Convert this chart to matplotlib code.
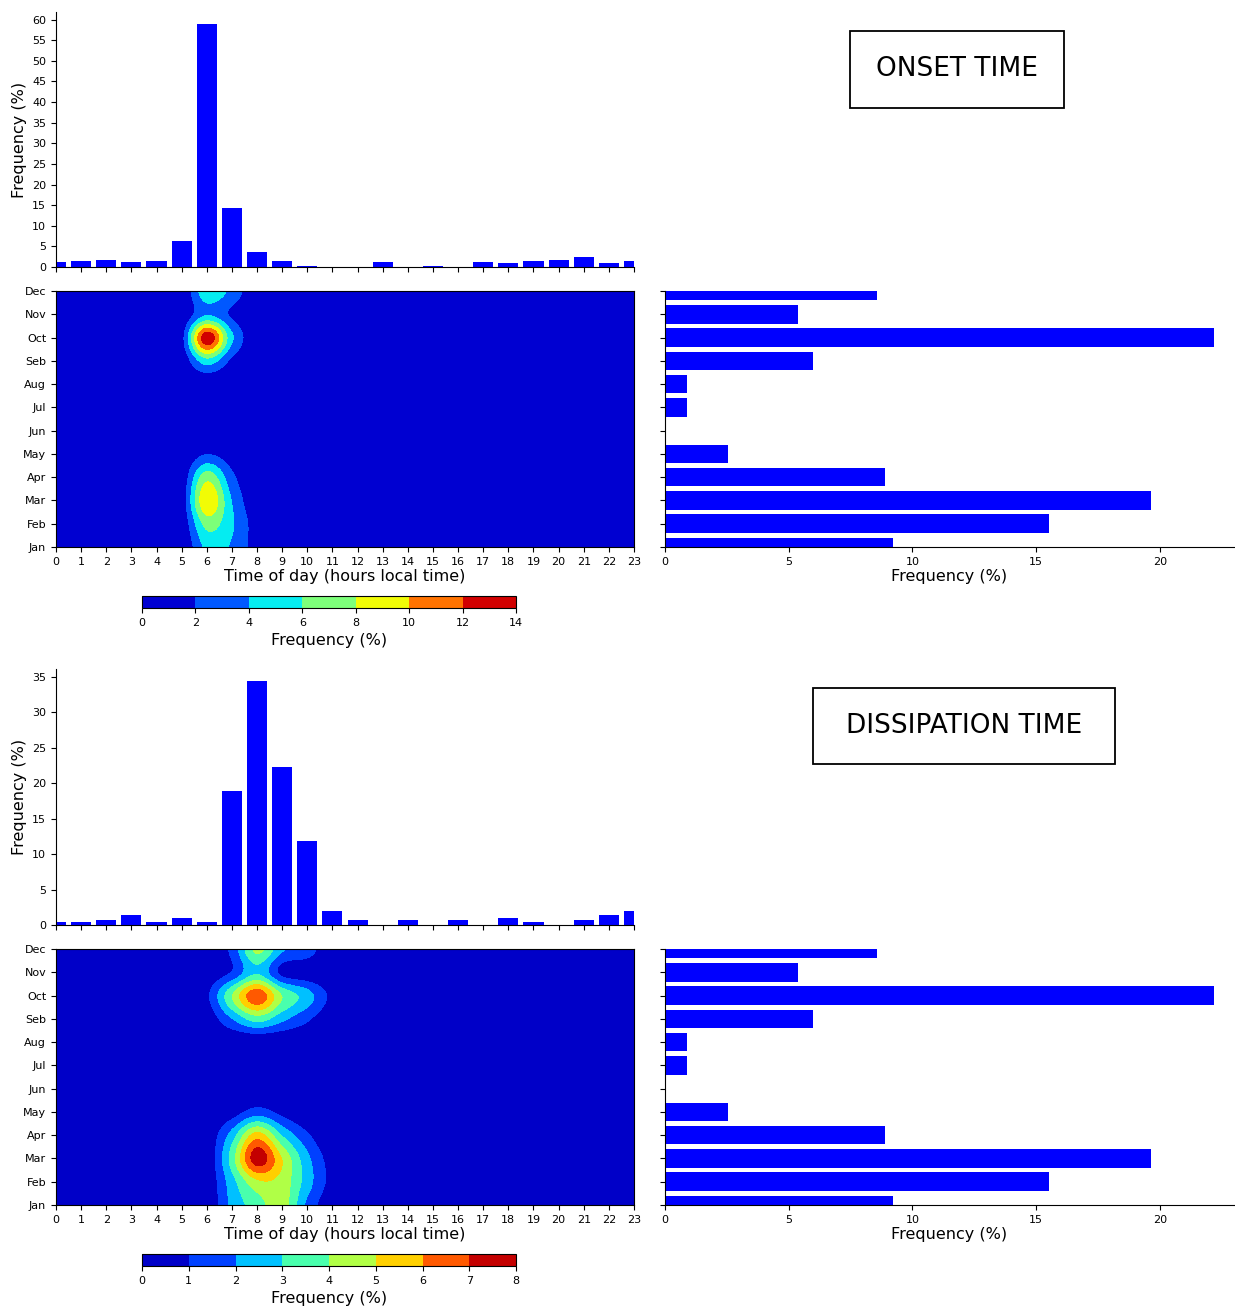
import numpy as np
import matplotlib
matplotlib.use('Agg')
import matplotlib.pyplot as plt
from matplotlib.colors import ListedColormap, BoundaryNorm
from matplotlib.patches import Rectangle

plt.rcParams['font.family'] = ['DejaVu Sans']

# ---------------- data ----------------
hours = list(range(24))
months = ['Jan', 'Feb', 'Mar', 'Apr', 'May', 'Jun', 'Jul', 'Aug', 'Seb', 'Oct', 'Nov', 'Dec']

onset_hist = [1.13, 1.45, 1.78, 1.13, 1.45, 6.2, 58.9, 14.4, 3.7, 1.45, 0.32, 0.0,
              0.0, 1.13, 0.0, 0.32, 0.0, 1.13, 0.89, 1.45, 1.78, 2.34, 0.89, 1.45]
dissip_hist = [0.38, 0.38, 0.71, 1.37, 0.38, 1.04, 0.38, 18.84, 34.38, 22.28, 11.82, 2.03,
               0.71, 0.0, 0.71, 0.0, 0.71, 0.0, 1.04, 0.38, 0.0, 0.71, 1.37, 2.03]

month_freq = [9.21, 15.54, 19.65, 8.89, 2.54, 0.0, 0.9, 0.9, 6.0, 22.2, 5.38, 8.57]

# month x hour frequency (%) -- only hours with non-zero values listed
onset_cols = [5, 6, 7, 8]
onset_cells = [
    [0.1, 4.5, 3.8, 1.0],   # Jan
    [0.5, 6.8, 4.3, 1.0],   # Feb
    [0.9, 9.8, 4.0, 0.3],   # Mar
    [0.6, 7.3, 2.6, 0.0],   # Apr
    [0.2, 2.0, 0.8, 0.0],   # May
    [0.0, 0.0, 0.0, 0.0],   # Jun
    [0.0, 0.0, 0.0, 0.0],   # Jul
    [0.0, 0.0, 0.0, 0.0],   # Aug
    [0.5, 5.2, 1.6, 0.0],   # Sep
    [1.4, 13.5, 4.5, 0.3],  # Oct
    [0.3, 3.9, 1.7, 0.0],   # Nov
    [0.1, 5.5, 3.4, 0.3],   # Dec
]
dissip_cols = [6, 7, 8, 9, 10, 11]
dissip_cells = [
    [0.1, 2.3, 3.5, 4.5, 1.8, 0.2],  # Jan
    [0.2, 2.6, 4.8, 4.6, 2.5, 0.6],  # Feb
    [0.2, 3.5, 7.6, 5.0, 2.3, 0.5],  # Mar
    [0.2, 2.5, 5.5, 3.0, 1.2, 0.0],  # Apr
    [0.0, 0.5, 1.5, 0.7, 0.0, 0.0],  # May
    [0.0, 0.0, 0.0, 0.0, 0.0, 0.0],  # Jun
    [0.0, 0.0, 0.0, 0.0, 0.0, 0.0],  # Jul
    [0.0, 0.0, 0.0, 0.0, 0.0, 0.0],  # Aug
    [0.3, 2.0, 3.5, 2.3, 1.2, 0.2],  # Sep
    [0.8, 4.0, 6.8, 4.0, 2.5, 0.7],  # Oct
    [0.2, 1.1, 2.9, 0.7, 0.3, 0.0],  # Nov
    [0.0, 1.3, 4.3, 2.2, 1.6, 0.0],  # Dec
]

onset_levels = [0, 2, 4, 6, 8, 10, 12, 14]
dissip_levels = [0, 1, 2, 3, 4, 5, 6, 7, 8]

onset_ticks = list(range(0, 61, 5))
dissip_ticks = list(range(0, 36, 5))
bar_xticks = [0, 5, 10, 15, 20]

# ---------------- layout ----------------
W, H = 1235, 1310
fig = plt.figure(figsize=(W / 100, H / 100), dpi=100)


def box(x0, y0, x1, y1):
    return [x0 / W, 1 - y1 / H, (x1 - x0) / W, (y1 - y0) / H]


TICK_FS = 8
LAB_FS = 11.5


def build_grid(cols, cells):
    g = np.zeros((len(months), len(hours)))
    g[:, cols] = np.array(cells)
    return g


def draw_hist(rect, values, yticks):
    ax = fig.add_axes(rect)
    ax.bar(hours, values, width=0.8, color='blue')
    ax.set_xlim(0, 23)
    ax.set_ylim(0, max(values) * 1.05)
    ax.set_xticks(hours)
    ax.set_xticklabels([])
    ax.set_yticks(yticks)
    ax.tick_params(labelsize=TICK_FS)
    ax.set_ylabel('Frequency (%)', fontsize=LAB_FS)
    ax.spines['top'].set_visible(False)
    ax.spines['right'].set_visible(False)
    return ax


def draw_heat(rect, grid, levels):
    ax = fig.add_axes(rect)
    lv = np.array(levels, dtype=float)
    mids = (lv[:-1] + lv[1:]) / 2
    cols = plt.cm.jet((mids - lv[0]) / (lv[-1] - lv[0]))
    cmap = ListedColormap(cols)
    cmap.set_under(cols[0])
    cmap.set_over(cols[-1])
    norm = BoundaryNorm(lv, cmap.N)
    im = ax.imshow(grid, origin='lower', extent=(-0.5, 23.5, -0.5, 11.5),
                   aspect='auto', cmap=cmap, norm=norm,
                   interpolation='catrom', interpolation_stage='data')
    ax.set_xlim(0, 23)
    ax.set_ylim(0, 11)
    ax.set_xticks(hours)
    ax.set_xticklabels([str(h) for h in hours])
    ax.set_yticks(range(12))
    ax.set_yticklabels(months)
    ax.tick_params(labelsize=TICK_FS)
    ax.set_xlabel('Time of day (hours local time)', fontsize=LAB_FS, labelpad=2)
    return ax, im


def draw_bars(rect):
    ax = fig.add_axes(rect)
    ax.barh(range(12), month_freq, height=0.8, color='blue')
    ax.set_ylim(0, 11)
    ax.set_xlim(0, 23.0)
    ax.set_yticks(range(12))
    ax.set_yticklabels([])
    ax.set_xticks(bar_xticks)
    ax.tick_params(labelsize=TICK_FS)
    ax.set_xlabel('Frequency (%)', fontsize=LAB_FS, labelpad=2)
    ax.spines['top'].set_visible(False)
    ax.spines['right'].set_visible(False)
    return ax


def draw_cbar(rect, im, levels):
    cax = fig.add_axes(rect)
    cb = fig.colorbar(im, cax=cax, orientation='horizontal', ticks=levels)
    cb.ax.tick_params(labelsize=TICK_FS)
    cb.set_label('Frequency (%)', fontsize=LAB_FS)
    cb.outline.set_linewidth(0.8)
    return cb


def draw_title_box(x0, y0, x1, y1, text):
    fig.patches.append(Rectangle((x0 / W, 1 - y1 / H), (x1 - x0) / W, (y1 - y0) / H,
                                 transform=fig.transFigure, fill=False,
                                 edgecolor='black', linewidth=1.3))
    fig.text((x0 + x1) / 2 / W, 1 - (y0 + y1) / 2 / H, text, ha='center', va='center',
             fontsize=19)


# ---- onset ----
draw_hist(box(56, 12, 634, 267), onset_hist, onset_ticks)
ax1, im1 = draw_heat(box(56, 291, 634, 547), build_grid(onset_cols, onset_cells), onset_levels)
draw_bars(box(665, 291, 1234, 547))
draw_cbar(box(142, 596, 516, 608), im1, onset_levels)
draw_title_box(850, 31, 1064, 108, 'ONSET TIME')

# ---- dissipation ----
draw_hist(box(56, 669, 634, 925), dissip_hist, dissip_ticks)
ax2, im2 = draw_heat(box(56, 949, 634, 1205), build_grid(dissip_cols, dissip_cells), dissip_levels)
draw_bars(box(665, 949, 1234, 1205))
draw_cbar(box(142, 1254, 516, 1266), im2, dissip_levels)
draw_title_box(813, 688, 1115, 764, 'DISSIPATION TIME')

fig.savefig('out.png', dpi=100)
